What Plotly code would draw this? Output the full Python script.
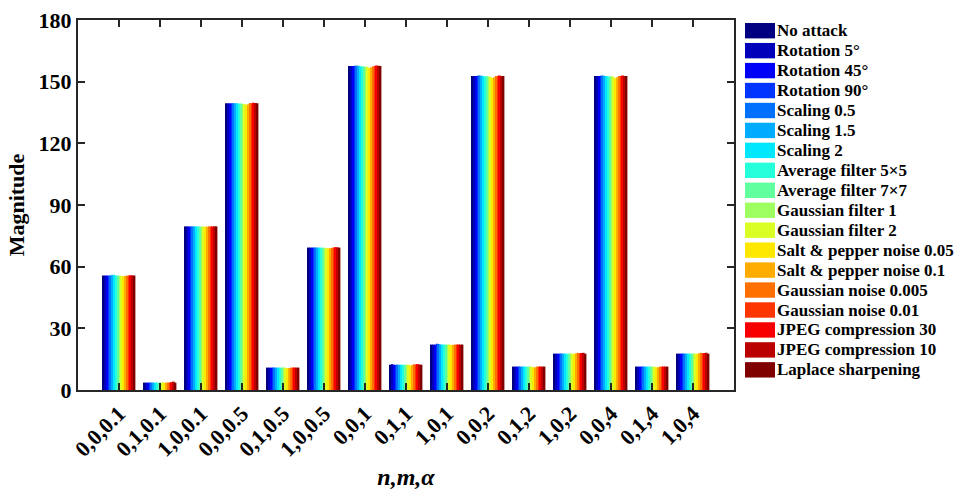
import plotly.graph_objects as go

# ---------------- data ----------------
GROUP_LABELS = ["0,0,0.1", "0,1,0.1", "1,0,0.1", "0,0,0.5", "0,1,0.5", "1,0,0.5",
                "0,0,1", "0,1,1", "1,0,1", "0,0,2", "0,1,2", "1,0,2",
                "0,0,4", "0,1,4", "1,0,4"]

NO_ATTACK   = [55.7, 3.6, 79.6, 139.5, 10.9, 69.3, 157.6, 12.3, 22.1, 152.7, 11.4, 17.7, 152.7, 11.4, 17.7]
ROT_5       = [55.7, 3.6, 79.6, 139.5, 10.9, 69.3, 157.6, 12.6, 22.1, 152.7, 11.4, 17.7, 152.7, 11.4, 17.7]
ROT_45      = [55.7, 3.6, 79.6, 139.5, 10.9, 69.3, 157.6, 12.3, 22.1, 152.7, 11.4, 17.7, 152.7, 11.4, 17.7]
ROT_90      = [55.7, 3.6, 79.6, 139.5, 10.9, 69.3, 157.7, 12.3, 22.5, 152.9, 11.4, 17.7, 152.9, 11.4, 17.7]
SCALE_05    = [55.7, 3.6, 79.6, 139.5, 10.9, 69.3, 157.8, 12.3, 22.4, 153.0, 11.4, 17.7, 153.0, 11.4, 17.7]
SCALE_15    = [56.0, 3.6, 79.6, 139.5, 10.9, 69.3, 157.7, 12.3, 22.2, 152.9, 11.4, 17.7, 152.9, 11.4, 17.7]
SCALE_2     = [56.0, 3.6, 79.6, 139.5, 10.9, 69.3, 157.5, 12.3, 22.1, 152.7, 11.4, 17.7, 152.7, 11.4, 17.7]
AVG_5       = [55.7, 3.6, 79.6, 139.4, 10.9, 69.3, 157.4, 12.3, 22.1, 152.6, 11.4, 17.7, 152.6, 11.4, 17.7]
AVG_7       = [55.7, 3.6, 79.6, 139.4, 10.9, 69.2, 157.4, 12.3, 22.1, 152.6, 11.4, 17.7, 152.6, 11.4, 17.7]
GAUSS_F1    = [55.6, 3.6, 79.5, 139.3, 10.9, 69.2, 157.3, 12.3, 22.1, 152.5, 11.4, 17.7, 152.5, 11.4, 17.7]
GAUSS_F2    = [55.5, 3.6, 79.5, 139.1, 10.8, 69.0, 157.2, 12.3, 22.0, 152.4, 11.3, 17.6, 152.4, 11.3, 17.6]
SP_005      = [55.4, 3.6, 79.4, 138.8, 10.6, 68.9, 156.6, 12.0, 21.9, 151.8, 11.0, 17.6, 151.8, 11.0, 17.6]
SP_01       = [55.5, 3.6, 79.5, 139.0, 10.7, 69.0, 157.0, 12.1, 22.0, 152.2, 11.1, 17.9, 152.2, 11.1, 17.9]
GN_0005     = [55.7, 3.7, 79.6, 139.6, 10.9, 69.2, 157.5, 12.6, 22.1, 152.8, 11.4, 18.1, 152.8, 11.4, 18.1]
GN_001      = [55.7, 3.7, 79.6, 139.5, 10.9, 69.3, 157.6, 12.4, 22.1, 152.7, 11.4, 17.9, 152.7, 11.4, 17.9]
JPEG_30     = [55.8, 3.8, 79.6, 139.7, 10.9, 69.5, 157.9, 12.6, 22.1, 153.0, 11.4, 18.0, 153.0, 11.4, 18.0]
JPEG_10     = [55.8, 4.1, 79.6, 139.6, 10.9, 69.4, 157.7, 12.4, 22.1, 152.8, 11.4, 18.1, 152.8, 11.4, 18.1]
LAPLACE     = [55.7, 3.6, 79.6, 139.5, 10.9, 69.3, 157.6, 12.3, 22.1, 152.7, 11.4, 17.7, 152.7, 11.4, 17.7]

SERIES_NAMES = ["No attack", "Rotation 5°", "Rotation 45°", "Rotation 90°", "Scaling 0.5",
                "Scaling 1.5", "Scaling 2", "Average filter 5×5", "Average filter 7×7",
                "Gaussian filter 1", "Gaussian filter 2", "Salt & pepper noise 0.05",
                "Salt & pepper noise 0.1", "Gaussian noise 0.005", "Gaussian noise 0.01",
                "JPEG compression 30", "JPEG compression 10", "Laplace sharpening"]
SERIES_VALUES = [NO_ATTACK, ROT_5, ROT_45, ROT_90, SCALE_05, SCALE_15, SCALE_2, AVG_5, AVG_7,
                 GAUSS_F1, GAUSS_F2, SP_005, SP_01, GN_0005, GN_001, JPEG_30, JPEG_10, LAPLACE]

# jet-like palette (18 samples)
COLORS = ["#000080", "#0000bb", "#0000f8", "#0035ff", "#0070ff", "#00acff",
          "#00e8ff", "#25ffda", "#61ff9e", "#9eff61", "#daff25", "#ffe800",
          "#ffac00", "#ff7000", "#ff3500", "#f80000", "#bb0000", "#800000"]

Y_TICKS = [0, 30, 60, 90, 120, 150, 180]

# ---------------- figure ----------------
FONT = "Liberation Serif"
x_pos = list(range(1, len(GROUP_LABELS) + 1))

fig = go.Figure()
for name, vals, col in zip(SERIES_NAMES, SERIES_VALUES, COLORS):
    fig.add_trace(go.Bar(x=x_pos, y=vals, name=name, marker=dict(color=col, line=dict(width=0)),
                         showlegend=False))

# plot-area geometry (pixels)
L, R, T, B = 78, 224, 20, 100
W = 958 - L - R
H = 490 - T - B

def px_x(px):
    return (px - L) / W

def px_y(py):
    return (490 - B - py) / H

# custom legend (swatches + text), generated from series lists
shapes, annotations = [], []
row0, step = 30.7, 19.95
for i, (name, col) in enumerate(zip(SERIES_NAMES, COLORS)):
    cy = row0 + i * step
    shapes.append(dict(type="rect", xref="paper", yref="paper",
                       x0=px_x(745), x1=px_x(775), y0=px_y(cy + 7.7), y1=px_y(cy - 7.7),
                       fillcolor=col, line=dict(width=0)))
    annotations.append(dict(xref="paper", yref="paper", x=px_x(774.5), y=px_y(cy),
                            xanchor="left", yanchor="middle", showarrow=False, text=name,
                            font=dict(family=FONT, size=17, color="black", weight="bold")))

fig.update_layout(
    width=958, height=490,
    margin=dict(l=L, r=R, t=T, b=B),
    paper_bgcolor="white", plot_bgcolor="white",
    barmode="group", bargap=0.2, bargroupgap=0,
    shapes=shapes, annotations=annotations,
    xaxis=dict(range=[0, 16], tickvals=x_pos, ticktext=GROUP_LABELS, tickangle=-45,
               automargin=False,
               ticks="inside", ticklen=7, tickwidth=2, tickcolor="#262626",
               showline=True, linecolor="#262626", linewidth=2, mirror="ticks",
               showgrid=False, zeroline=False,
               tickfont=dict(family=FONT, size=22, color="black", weight="bold"),
               title=dict(text="<i>n,m,α</i>", standoff=12,
                          font=dict(family=FONT, size=24, color="black", weight="bold"))),
    yaxis=dict(range=[0, 180], tickvals=Y_TICKS,
               automargin=False,
               ticks="inside", ticklen=7, tickwidth=2, tickcolor="#262626",
               showline=True, linecolor="#262626", linewidth=2, mirror="ticks",
               showgrid=False, zeroline=False,
               tickfont=dict(family=FONT, size=22, color="black", weight="bold"),
               title=dict(text="Magnitude", standoff=8,
                          font=dict(family=FONT, size=22, color="black", weight="bold"))),
)

fig.write_html("out.html", config={"displayModeBar": False},
               post_script="document.body.style.margin='0';")
